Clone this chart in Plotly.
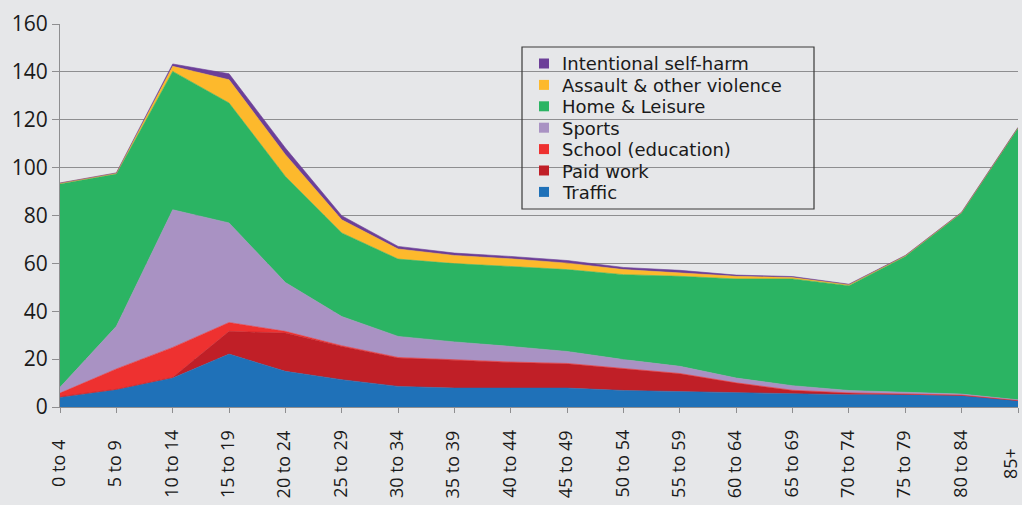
import plotly.graph_objects as go

age_groups = ["0 to 4", "5 to 9", "10 to 14", "15 to 19", "20 to 24", "25 to 29",
              "30 to 34", "35 to 39", "40 to 44", "45 to 49", "50 to 54", "55 to 59",
              "60 to 64", "65 to 69", "70 to 74", "75 to 79", "80 to 84", "85+"]

traffic   = [4.0, 7.2, 12.1, 22.1, 14.9, 11.4, 8.6, 7.9, 7.9, 7.9, 6.9, 6.5, 6.1, 5.6, 5.1, 5.1, 4.7, 2.6]
paid_work = [0.3, 0.2, 0.3, 9.5, 16.0, 13.9, 11.9, 11.6, 10.7, 10.2, 9.0, 7.4, 3.9, 1.3, 0.7, 0.3, 0.2, 0.1]
school    = [1.5, 8.5, 12.5, 3.7, 0.7, 0.3, 0.2, 0.2, 0.2, 0.1, 0.1, 0.1, 0.1, 0.1, 0.1, 0.1, 0.1, 0.1]
sports    = [2.4, 17.8, 57.5, 41.6, 20.4, 12.2, 8.8, 7.5, 6.5, 5.0, 3.8, 3.0, 2.0, 1.9, 1.0, 0.6, 0.4, 0.2]
home      = [85.0, 63.6, 57.8, 50.1, 44.3, 34.9, 32.3, 32.7, 33.4, 34.2, 35.5, 37.6, 41.4, 44.6, 43.8, 56.8, 75.6, 113.5]
assault   = [0.3, 0.4, 2.1, 9.7, 9.1, 5.5, 4.2, 3.4, 3.2, 2.7, 2.1, 1.4, 1.1, 0.6, 0.4, 0.3, 0.3, 0.2]
self_harm = [0.1, 0.1, 1.0, 2.5, 2.8, 1.7, 1.1, 1.0, 1.0, 1.1, 0.9, 1.1, 0.5, 0.4, 0.2, 0.1, 0.1, 0.1]

series_names = ["Traffic", "Paid work", "School (education)", "Sports",
                "Home & Leisure", "Assault & other violence", "Intentional self-harm"]
series_values = [traffic, paid_work, school, sports, home, assault, self_harm]
series_colors = ["#1f71b8", "#c01f27", "#ee3130", "#a992c3", "#2bb463", "#fdb92c", "#6c3f98"]

BG = "#e6e7e9"
GRID = "#8e8e90"
TXT = "#1a1a1a"
FONT = "Open Sans"
LEGEND_FONT = "DejaVu Sans"

W, H = 1022, 505
ML, MR, MT, MB = 60, 4, 24, 98
PW, PH = W - ML - MR, H - MT - MB


def px_x(p):
    return (p - ML) / PW


def px_y(p):
    return (H - MB - p) / PH


fig = go.Figure()
for name, vals, col in zip(series_names, series_values, series_colors):
    fig.add_trace(go.Scatter(
        x=age_groups, y=vals, name=name, mode="lines",
        stackgroup="one", line=dict(color=col, width=0.6),
        fillcolor=col, showlegend=False, hoverinfo="x+y+name"))

# legend box (mask + border)
fig.add_shape(type="rect", xref="paper", yref="paper",
              x0=px_x(516), x1=px_x(820), y0=px_y(210), y1=px_y(46),
              fillcolor=BG, line=dict(width=0), layer="between")
fig.add_shape(type="rect", xref="paper", yref="paper",
              x0=px_x(522), x1=px_x(814), y0=px_y(209), y1=px_y(47),
              fillcolor="rgba(0,0,0,0)", line=dict(color="#3a3a3a", width=1.2),
              layer="above")

# legend entries, top to bottom in reverse stacking order
row0, row_gap = 63.5, 21.4
for i, (name, col) in enumerate(zip(series_names[::-1], series_colors[::-1])):
    cy = row0 + i * row_gap
    fig.add_shape(type="rect", xref="paper", yref="paper",
                  x0=px_x(539), x1=px_x(549), y0=px_y(cy + 5), y1=px_y(cy - 5),
                  fillcolor=col, line=dict(width=0), layer="above")
    fig.add_annotation(text=name, xref="paper", yref="paper",
                       x=px_x(561), y=px_y(cy + 0.5), xanchor="left", yanchor="middle",
                       borderpad=0, showarrow=False,
                       font=dict(family=LEGEND_FONT, size=18, color=TXT))

# category labels, rotated and centred in the band below the axis
for cat in age_groups:
    fig.add_annotation(text=cat, x=cat, xref="x", yref="paper",
                       y=px_y(464), xanchor="center", yanchor="middle",
                       textangle=-90, showarrow=False,
                       xshift=-8 if cat == age_groups[-1] else -2,
                       font=dict(family=FONT, size=18, color=TXT))

fig.update_layout(
    width=W, height=H,
    margin=dict(l=ML, r=MR, t=MT, b=MB),
    paper_bgcolor=BG, plot_bgcolor=BG,
    font=dict(family=FONT, color=TXT, size=19),
    showlegend=False,
    xaxis=dict(
        range=[0, 17], showgrid=False, showline=True, linecolor=GRID, linewidth=1,
        ticks="outside", ticklen=5, tickcolor=GRID, showticklabels=False,
        zeroline=False,
    ),
    yaxis=dict(
        range=[0, 160], dtick=20, showgrid=True, gridcolor=GRID, gridwidth=1,
        showline=True, linecolor=GRID, linewidth=1,
        ticks="outside", ticklen=7, tickcolor=GRID,
        tickfont=dict(family=FONT, size=21, color=TXT),
        zeroline=False,
    ),
)

fig.write_html("out.html", config={"displayModeBar": False},
               post_script="document.body.style.margin='0';document.body.style.overflow='hidden';")
